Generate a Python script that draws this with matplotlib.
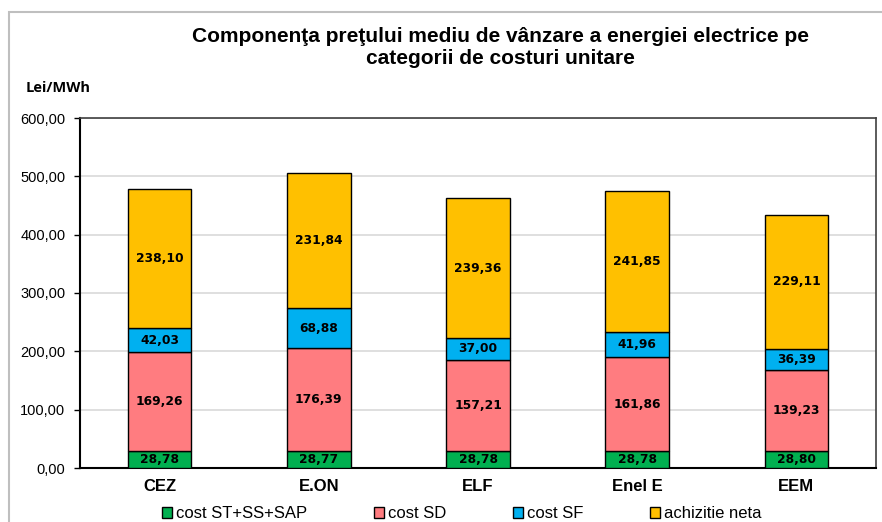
import matplotlib
matplotlib.use("Agg")
import matplotlib.pyplot as plt
from matplotlib.patches import Rectangle, Patch
import numpy as np

categories = ["CEZ", "E.ON", "ELF", "Enel E", "EEM"]
series_names = ["cost ST+SS+SAP", "cost SD", "cost SF", "achizitie neta"]
cost_st = [28.78, 28.77, 28.78, 28.78, 28.80]
cost_sd = [169.26, 176.39, 157.21, 161.86, 139.23]
cost_sf = [42.03, 68.88, 37.00, 41.96, 36.39]
achizitie = [238.10, 231.84, 239.36, 241.85, 229.11]
yticks = [0, 100, 200, 300, 400, 500, 600]
colors = ["#00B050", "#FF7C80", "#00B0F0", "#FFC000"]

W, H = 882, 522
fig = plt.figure(figsize=(W / 100, H / 100), dpi=100)

# outer chart border
fig.patches.append(Rectangle((9 / W, -0.2), 1.2, 1.2 - 12 / H, transform=fig.transFigure,
                             fill=False, edgecolor="#BFBFBF", linewidth=1.5, zorder=0))

ax = fig.add_axes([80 / W, 1 - 468 / H, (876 - 80) / W, (468 - 118) / H])
x = np.arange(len(categories))
bottom = np.zeros(len(categories))
data = [cost_st, cost_sd, cost_sf, achizitie]
for vals, name, col in zip(data, series_names, colors):
    vals = np.array(vals)
    ax.bar(x, vals, 0.4, bottom=bottom, color=col, edgecolor="black",
           linewidth=1.0, label=name, zorder=3)
    for xi, b, v in zip(x, bottom, vals):
        ax.text(xi, b + v / 2, f"{v:.2f}".replace(".", ","), ha="center", va="center",
                fontsize=8.8, fontweight="bold", family="DejaVu Sans", zorder=4)
    bottom = bottom + vals

ax.set_xlim(-0.5, len(categories) - 0.5)
ax.set_ylim(0, 600)
ax.set_yticks(yticks)
ax.set_yticklabels([f"{v:.2f}".replace(".", ",") for v in yticks],
                   fontsize=10.5, family="Liberation Sans")
ax.set_xticks(x)
ax.set_xticklabels(categories, fontsize=12, fontweight="bold", family="Liberation Sans")
ax.tick_params(axis="x", length=0, pad=8)
ax.tick_params(axis="y", length=4, width=1, pad=6.5, direction="out")
ax.yaxis.grid(True, color="#D9D9D9", linewidth=1.2, zorder=0)
ax.set_axisbelow(True)
for s in ["left", "bottom"]:
    ax.spines[s].set_linewidth(1.5)
    ax.spines[s].set_color("black")
for s in ["top", "right"]:
    ax.spines[s].set_linewidth(1.2)
    ax.spines[s].set_color("#404040")

fig.text(500 / W, 1 - 47 / H,
         "Componenţa preţului mediu de vânzare a energiei electrice pe\ncategorii de costuri unitare",
         ha="center", va="center", fontsize=15, fontweight="bold", family="Liberation Sans",
         linespacing=1.2)
fig.text(26 / W, 1 - 88 / H, "Lei/MWh", ha="left", va="center", fontsize=10.5,
         fontweight="bold", family="Open Sans")

handles = [Patch(facecolor=c, edgecolor="black", linewidth=1.0) for c in colors]
fig.legend(handles, series_names, loc="center", bbox_to_anchor=(462 / W, 1 - 514 / H),
           ncol=4, frameon=False, prop={"family": "Liberation Sans", "size": 12},
           handlelength=0.6, handleheight=0.6, handletextpad=0.25, columnspacing=4.0,
           borderaxespad=0, borderpad=0)

fig.savefig("out.png", dpi=100)
